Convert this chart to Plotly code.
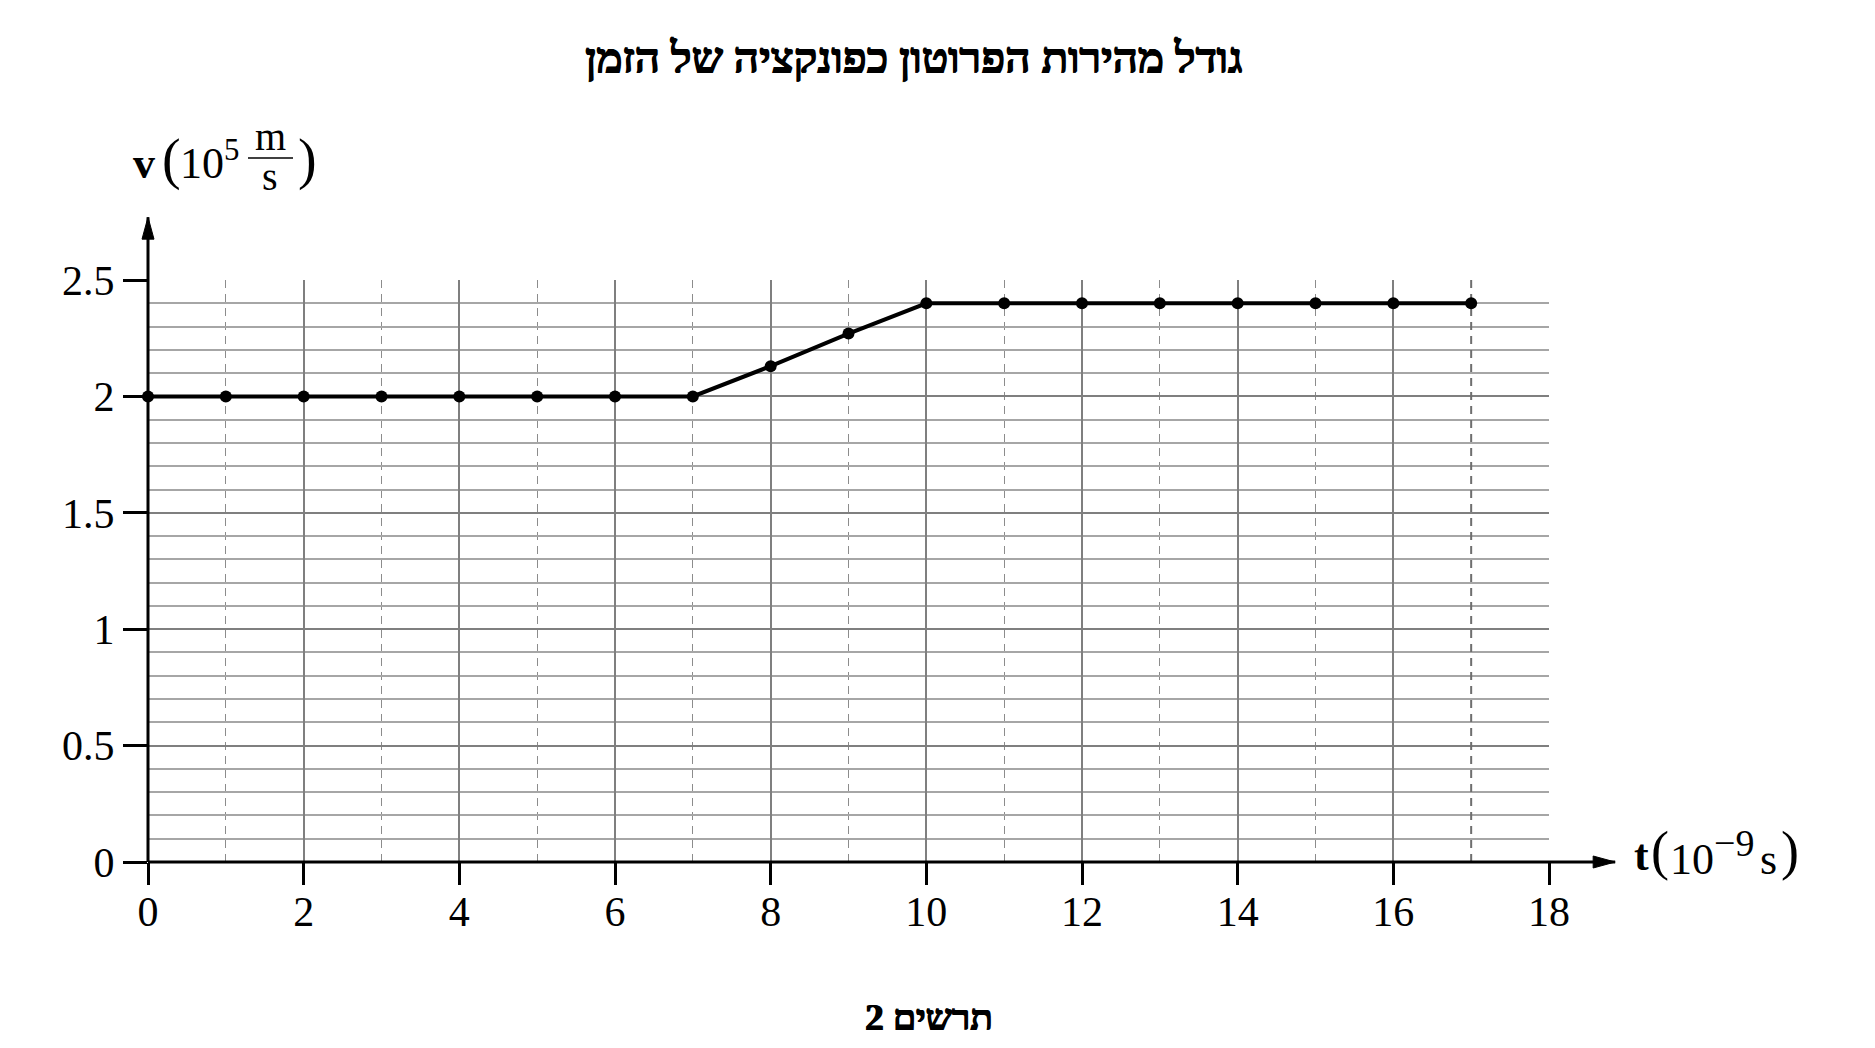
import plotly.graph_objects as go

# data
t_values = [0, 1, 2, 3, 4, 5, 6, 7, 8, 9, 10, 11, 12, 13, 14, 15, 16, 17]
v_values = [2, 2, 2, 2, 2, 2, 2, 2, 2.13, 2.27, 2.4, 2.4, 2.4, 2.4, 2.4, 2.4, 2.4, 2.4]
x_tick_vals = [0, 2, 4, 6, 8, 10, 12, 14, 16, 18]
y_tick_vals = [0, 0.5, 1, 1.5, 2, 2.5]
y_tick_text = ["0", "0.5", "1", "1.5", "2", "2.5"]

title_text = "גודל מהירות הפרוטון כפונקציה של הזמן"
caption_text = "תרשים 2"

# page body has an 8px margin, so work in page pixels and shift
OFF = 8
W, H = 1875 - 2 * OFF, 1048 - 2 * OFF
PL, PR, PT, PB = 148, 1549, 280, 862   # plot area in page pixels
L, T = PL - OFF, PT - OFF
R, B = W - (PR - OFF), H - (PB - OFF)
X_MAX, Y_MAX = 18, 2.5
SERIF = "Liberation Serif"


def px(x):
    return (x - PL) / (PR - PL)


def py(y):
    return (PB - y) / (PB - PT)


def note(text, x, y, size, xanchor="center", yanchor="middle", shadow=None):
    font = dict(family=SERIF, size=size, color="black")
    if shadow:
        font["shadow"] = shadow
    fig.add_annotation(text=text, xref="paper", yref="paper", x=px(x), y=py(y),
                       xanchor=xanchor, yanchor=yanchor, showarrow=False, font=font)


fig = go.Figure()

fig.add_trace(go.Scatter(
    x=t_values, y=v_values, mode="lines+markers",
    line=dict(color="black", width=4),
    marker=dict(color="black", size=12),
    cliponaxis=False, showlegend=False,
))

# axis lines with arrows (paper coords so they are not clipped)
x_tip = 18.85 / X_MAX
y_tip = 2.77 / Y_MAX
fig.add_shape(type="line", xref="paper", yref="paper", x0=0, y0=0, x1=x_tip, y1=0,
              line=dict(color="black", width=3))
fig.add_shape(type="line", xref="paper", yref="paper", x0=0, y0=0, x1=0, y1=y_tip,
              line=dict(color="black", width=3))
fig.add_shape(type="path", xref="paper", yref="paper", xsizemode="pixel", ysizemode="pixel",
              xanchor=x_tip, yanchor=0, path="M0,0 L-22,6 L-22,-6 Z",
              fillcolor="black", line=dict(color="black", width=1))
fig.add_shape(type="path", xref="paper", yref="paper", xsizemode="pixel", ysizemode="pixel",
              xanchor=0, yanchor=y_tip, path="M0,0 L-6,-22 L6,-22 Z",
              fillcolor="black", line=dict(color="black", width=1))
# darker dashed line at t=17
fig.add_shape(type="line", xref="x", yref="y", x0=17, y0=0, x1=17, y1=2.5,
              line=dict(color="#6e6e6e", width=2, dash="8px,6px"), layer="between")

# titles
heavy = "1px 0px 0px black, -0.5px 0px 0px black"
note("<b>" + title_text + "</b>", 913, 58, 44, shadow=heavy)
note("<b>" + caption_text + "</b>", 928, 1017, 37, shadow=heavy)

# y axis label v(10^5 m/s)
note("<b>v</b>", 157, 163, 44, xanchor="right")
note("(", 171, 159, 56)
note("10<sup>5</sup>", 178, 160, 44, xanchor="left")
note("m", 270, 136, 40)
note("s", 270, 177, 40)
fig.add_shape(type="line", xref="paper", yref="paper", x0=px(248), x1=px(293),
              y0=py(158), y1=py(158), line=dict(color="black", width=1.5))
note(")", 307, 159, 56)

# x axis label t(10^-9 s)
note("<b>t</b>", 1632, 855, 44, xanchor="left")
note("(", 1660, 851, 54)
note("10<sup><span style='font-size:38px'>−9</span></sup>", 1668, 853, 44, xanchor="left")
note("s", 1768, 859, 44)
note(")", 1790, 851, 54)

fig.update_xaxes(
    range=[0, X_MAX], tickvals=x_tick_vals, ticks="outside", ticklen=22, tickwidth=3,
    tickcolor="black", showline=False, zeroline=False,
    showgrid=True, gridcolor="#7f7f7f", gridwidth=2,
    minor=dict(dtick=1, tick0=0, showgrid=True, gridcolor="#8c8c8c", gridwidth=1,
               griddash="8px,6px"),
    tickfont=dict(family=SERIF, size=42, color="black"),
    ticklabelstandoff=-9,
)
fig.update_yaxes(
    range=[0, Y_MAX], tickvals=y_tick_vals, ticktext=y_tick_text, ticks="outside",
    ticklen=24, tickwidth=3, tickcolor="black", showline=False, zeroline=False,
    showgrid=True, gridcolor="#7f7f7f", gridwidth=2,
    minor=dict(dtick=0.1, tick0=0, showgrid=True, gridcolor="#a6a6a6", gridwidth=2),
    tickfont=dict(family=SERIF, size=42, color="black"),
)

fig.update_layout(
    width=W, height=H, autosize=False,
    margin=dict(l=L, r=R, t=T, b=B),
    paper_bgcolor="white", plot_bgcolor="white",
)

fig.write_html("out.html")
